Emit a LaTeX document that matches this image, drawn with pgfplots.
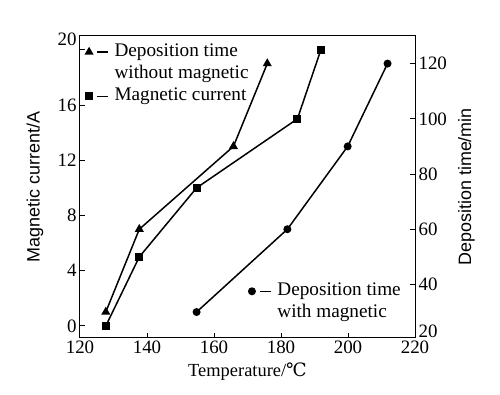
\documentclass[border=0pt]{standalone}
\usepackage{pgfplots}
\pgfplotsset{compat=1.18}
\usepackage{fontspec}
\setmainfont{Liberation Serif}
\setsansfont{Liberation Sans}
\newfontfamily\dejavu{DejaVu Serif}

\begin{document}
\begin{tikzpicture}
\pgfplotsset{
  every axis/.append style={
    scale only axis, width=335bp, height=301.7bp,
    xmin=120, xmax=220,
    font=\fontsize{19}{21}\selectfont,
    tick label style={font=\fontsize{19}{21}\selectfont},
    /pgf/number format/assume math mode=true,
    tick align=inside, major tick length=5bp,
    axis line style={line width=1bp},
    every tick/.style={line width=1bp, black},
    clip=false,
    legend cell align=left,
  },
  leg/.style={legend image code/.code={
     \draw[mark=none] (8bp,0bp) -- (19bp,0bp);
     \draw plot coordinates {(0bp,0bp)};}},
  dat/.style={black, line width=1.5bp, mark options={solid, fill=black}},
  legst/.style={draw=none, fill=none, inner sep=0pt, outer sep=0pt,
     column sep=5.7bp, row sep=5.2bp,
     nodes={inner sep=0pt, text height=13bp, text depth=4bp, font=\fontsize{19.3}{21}\selectfont}},
}
\begin{axis}[
  ymin=-0.85, ymax=21.0,
  ytick={0,4,...,16},
  extra y ticks={20},
  extra y tick style={yticklabel style={yshift=11bp}},
  xtick={120,140,...,220},
  xtick pos=bottom, ytick pos=left,
  xlabel={\fontsize{18.5}{21}\selectfont Temperature/{\dejavu ℃}},
  xlabel style={at={(axis description cs:0.5,-0.1127)}, anchor=center},
  ylabel={\sffamily\fontsize{18}{21}\selectfont Magnetic current/A},
  ylabel style={at={(axis description cs:-0.134,0.5)}, anchor=center},
  legend style={legst, at={(rel axis cs:0.0173,0.975)}, anchor=north west},
]
\path (rel axis cs:-0.2388,-0.1866) rectangle (rel axis cs:1.2537,1.1193);
\addlegendimage{dat, leg, mark=triangle*, mark size=3.8bp}
\addlegendentry{Deposition time}
\addlegendimage{empty legend}
\addlegendentry{without magnetic}
\addplot[dat, leg, mark=square*, mark size=3.2bp] coordinates {
  (127.7,0) (137.7,5) (154.8,10) (184.9,15) (191.9,20)
};
\addlegendentry{Magnetic current}
\end{axis}
\begin{axis}[
  ymin=20.7, ymax=130,
  ytick={40,60,...,120},
  extra y ticks={23.2},
  extra y tick labels={20},
  extra y tick style={major tick length=0pt},
  axis x line=none, axis y line*=right,
  ylabel={\sffamily\fontsize{18}{21}\selectfont Deposition time/min},
  ylabel style={at={(axis description cs:1.1537,0.5)}, anchor=center, rotate=0},
  legend style={legst, at={(rel axis cs:0.5037,0.182)}, anchor=north west},
]
\addplot[dat, mark=triangle*, mark size=3.8bp, forget plot] coordinates {
  (127.7,30) (137.7,60) (165.8,90) (175.9,120)
};
\addplot[dat, leg, mark=*, mark size=3.2bp] coordinates {
  (154.8,30) (181.9,60) (199.9,90) (211.8,120)
};
\addlegendentry{Deposition time}
\addlegendimage{empty legend}
\addlegendentry{with magnetic}
\end{axis}
\end{tikzpicture}
\end{document}
